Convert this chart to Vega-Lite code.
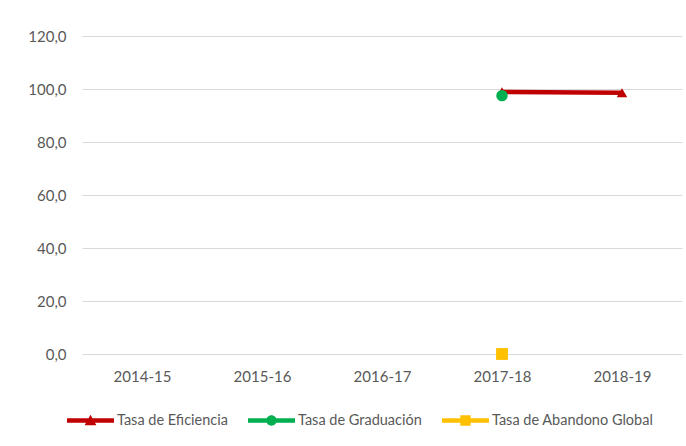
{
  "$schema": "https://vega.github.io/schema/vega-lite/v6.json",
  "width": 600,
  "height": 318,
  "autosize": {"type": "none"},
  "padding": {"left": 82, "top": 36, "right": 4, "bottom": 92},
  "background": "white",
  "config": {
    "font": "Lato",
    "view": {"stroke": null},
    "axis": {"labelFont": "Lato", "labelColor": "#595959", "labelFontSize": 15, "ticks": false, "title": null},
    "legend": {"labelFont": "Lato", "labelColor": "#595959", "labelFontSize": 14.5, "labelLimit": 400}
  },
  "data": {
    "values": [
      {"curso": "2014-15", "serie": "Tasa de Eficiencia", "valor": null},
      {"curso": "2015-16", "serie": "Tasa de Eficiencia", "valor": null},
      {"curso": "2016-17", "serie": "Tasa de Eficiencia", "valor": null},
      {"curso": "2017-18", "serie": "Tasa de Eficiencia", "valor": 98.9},
      {"curso": "2018-19", "serie": "Tasa de Eficiencia", "valor": 98.6},
      {"curso": "2017-18", "serie": "Tasa de Graduación", "valor": 97.5},
      {"curso": "2017-18", "serie": "Tasa de Abandono Global", "valor": 0.0}
    ]
  },
  "encoding": {
    "x": {
      "field": "curso", "type": "ordinal",
      "scale": {"type": "point", "padding": 0.5, "domain": ["2014-15", "2015-16", "2016-17", "2017-18", "2018-19"]},
      "axis": {"labelAngle": 0, "labelPadding": 15, "domain": false, "grid": false}
    },
    "y": {
      "field": "valor", "type": "quantitative",
      "scale": {"domain": [0, 120], "nice": false},
      "axis": {"values": [0, 20, 40, 60, 80, 100, 120], "labelExpr": "replace(format(datum.value, '.1f'), '.', ',')", "labelPadding": 16, "domain": false, "grid": true, "gridColor": "#d9d9d9", "gridWidth": 1}
    }
  },
  "layer": [
    {
      "transform": [{"filter": "datum.serie == 'Tasa de Eficiencia' && datum.valor != null"}],
      "mark": {"type": "line", "color": "#C00000", "strokeWidth": 4.5}
    },
    {
      "transform": [{"filter": "datum.serie == 'Tasa de Eficiencia' && datum.valor != null"}],
      "mark": {"type": "point", "shape": "triangle-up", "filled": true, "opacity": 1, "color": "#C00000", "size": 110}
    },
    {
      "transform": [{"filter": "datum.serie == 'Tasa de Graduación'"}],
      "mark": {"type": "point", "shape": "circle", "filled": true, "opacity": 1, "color": "#00B050", "size": 130}
    },
    {
      "transform": [{"filter": "datum.serie == 'Tasa de Abandono Global'"}],
      "mark": {"type": "point", "shape": "square", "filled": true, "opacity": 1, "color": "#FFC000", "size": 140}
    },
    {
      "transform": [{"filter": "datum.valor > 1000"}],
      "mark": {"type": "point", "filled": true, "opacity": 1},
      "encoding": {
        "color": {
          "field": "serie", "type": "nominal",
          "scale": {"domain": ["Tasa de Eficiencia", "Tasa de Graduación", "Tasa de Abandono Global"], "range": ["#C00000", "#00B050", "#FFC000"]},
          "legend": {"title": null, "orient": "none", "legendX": -15, "legendY": 361, "direction": "horizontal", "symbolSize": 2209, "labelOffset": 3, "columnPadding": 20, "symbolStrokeWidth": 0, "symbolOpacity": 1}
        },
        "shape": {
          "field": "serie", "type": "nominal",
          "scale": {"domain": ["Tasa de Eficiencia", "Tasa de Graduación", "Tasa de Abandono Global"], "range": [
            "M-1,-0.1H1V0.1H-1Z M-0.25,0.2L0,-0.24L0.25,0.2Z",
            "M-1,-0.1H1V0.1H-1Z M-0.22,0A0.22,0.22 0 1,1 0.22,0A0.22,0.22 0 1,1 -0.22,0Z",
            "M-1,-0.1H1V0.1H-1Z M-0.22,-0.22H0.22V0.22H-0.22Z"
          ]},
          "legend": {"title": null, "orient": "none", "legendX": -15, "legendY": 361, "direction": "horizontal", "symbolSize": 2209, "labelOffset": 3, "columnPadding": 20, "symbolStrokeWidth": 0, "symbolOpacity": 1}
        }
      }
    }
  ]
}
